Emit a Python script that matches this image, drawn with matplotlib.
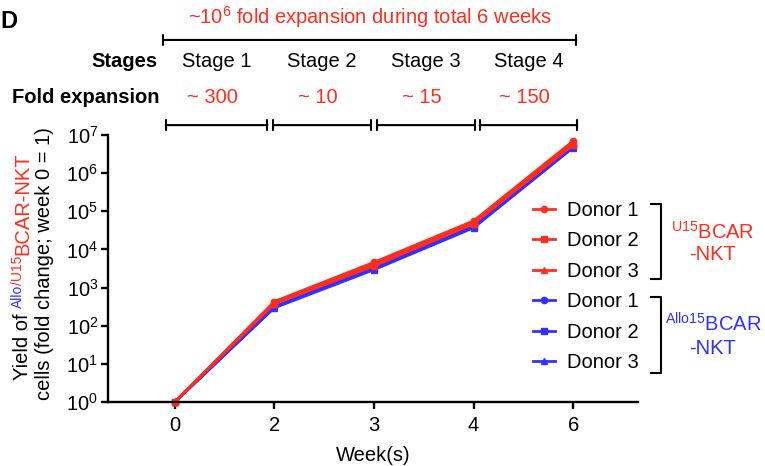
import numpy as np
import matplotlib
matplotlib.use("Agg")
import matplotlib.pyplot as plt
from matplotlib.lines import Line2D
from matplotlib.ticker import LogLocator, NullLocator
from matplotlib.transforms import IdentityTransform

plt.rcParams['font.family'] = ['Liberation Sans', 'DejaVu Sans']
plt.rcParams['mathtext.fontset'] = 'custom'
plt.rcParams['mathtext.rm'] = 'Liberation Sans'
plt.rcParams['mathtext.it'] = 'Liberation Sans:italic'
plt.rcParams['mathtext.bf'] = 'Liberation Sans:bold'
plt.rcParams['mathtext.default'] = 'regular'

# data (fold change, week 0 = 1)
weeks = ["0", "2", "3", "4", "6"]
u15_donor1 = [1, 430, 4600, 56000, 7.0e6]
u15_donor2 = [1, 400, 4100, 51000, 6.2e6]
u15_donor3 = [1, 380, 3700, 47000, 5.6e6]
allo_donor1 = [1, 320, 3300, 41000, 5.2e6]
allo_donor2 = [1, 305, 3100, 39000, 4.9e6]
allo_donor3 = [1, 295, 2950, 37000, 4.7e6]
donors = ["Donor 1", "Donor 2", "Donor 3"]

stages = ["Stage 1", "Stage 2", "Stage 3", "Stage 4"]
folds = ["~ 300", "~ 10", "~ 15", "~ 150"]

RED = "#FF2D1E"
BLUE = "#3030FF"
W, H = 765, 466


def px(x, y):
    # image pixel -> figure fraction
    return x / W, 1 - y / H


fig = plt.figure(figsize=(W / 100, H / 100), dpi=100)
ax = fig.add_axes([108 / W, 1 - 402 / H, 530 / W, 267 / H])

x = np.arange(len(weeks))
markers = ["o", "s", "^"]
blue_lines = []
for vals, m, lab in zip([allo_donor1, allo_donor2, allo_donor3], markers, donors):
    l, = ax.plot(x, vals, color=BLUE, marker=m, ms=4.5, lw=2.0, label=lab, clip_on=False)
    blue_lines.append(l)
red_lines = []
for vals, m, lab in zip([u15_donor1, u15_donor2, u15_donor3], markers, donors):
    l, = ax.plot(x, vals, color=RED, marker=m, ms=4.5, lw=2.0, label=lab, clip_on=False)
    red_lines.append(l)

ax.set_yscale("log")
ax.set_ylim(1, 1e7)
ax.set_xlim(-0.67, 4.65)
ax.yaxis.set_major_locator(LogLocator(base=10, numticks=10))
ax.yaxis.set_minor_locator(NullLocator())
ax.set_xticks(x)
ax.set_xticklabels(weeks)
for s in ["top", "right"]:
    ax.spines[s].set_visible(False)
for s in ["left", "bottom"]:
    ax.spines[s].set_linewidth(1.7)
ax.tick_params(axis="both", direction="out", length=5, width=1.7, labelsize=14.5)
ax.tick_params(axis="x", pad=5)
ax.tick_params(axis="y", pad=2)
ax.set_xlabel("Week(s)", fontsize=14.5, labelpad=8)

handles = red_lines + blue_lines
ax.legend(handles, [h.get_label() for h in handles], loc="center left",
          bbox_to_anchor=px(533, 286.5), bbox_transform=fig.transFigure,
          frameon=False, fontsize=14.5, handlelength=1.1, handletextpad=0.6,
          labelspacing=0.57, borderpad=0, borderaxespad=0)

# group brackets next to the legend
for y0, y1 in [(204, 279), (297, 373)]:
    xs = [651, 661, 661, 651]
    ys = [y0, y0, y1, y1]
    fig.add_artist(Line2D([a / W for a in xs], [1 - b / H for b in ys],
                          color="black", lw=1.5, transform=fig.transFigure))
fig.text(*px(713, 232), "$^{U15}$BCAR", color=RED, fontsize=14.5, ha="center", va="center")
fig.text(*px(713, 254), "-NKT", color=RED, fontsize=14.5, ha="center", va="center")
fig.text(*px(713, 324), "$^{Allo15}$BCAR", color=BLUE, fontsize=14.5, ha="center", va="center")
fig.text(*px(713, 348), "-NKT", color=BLUE, fontsize=14.5, ha="center", va="center")

# stage annotations above the plot
trans = ax.get_xaxis_transform()
seg_start = [-0.09, 0.99, 2.03, 3.06]
seg_end = [0.93, 1.97, 3.01, 4.04]
bar = dict(arrowstyle="|-|,widthA=0.35,widthB=0.35", lw=1.5, color="black",
           shrinkA=0, shrinkB=0)
ax.annotate("", xy=(-0.12, 1.356), xytext=(4.03, 1.356), xycoords=trans,
            textcoords=trans, arrowprops=bar, annotation_clip=False)
ax.text(1.955, 1.44, "~10$^{6}$ fold expansion during total 6 weeks", transform=trans,
        color=RED, fontsize=14.5, ha="center", va="center")
ax.text(-0.17, 1.277, "Stages", transform=trans, fontsize=14.5, fontweight="bold",
        ha="right", va="center")
ax.text(-0.15, 1.139, "Fold expansion", transform=trans, fontsize=14.5, fontweight="bold",
        ha="right", va="center")
for a, b, st, fo in zip(seg_start, seg_end, stages, folds):
    c = (a + b) / 2
    ax.text(c, 1.277, st, transform=trans, fontsize=14.5, ha="center", va="center")
    ax.text(c - 0.04, 1.139, fo, transform=trans, fontsize=14.5, color=RED,
            ha="center", va="center")
    ax.annotate("", xy=(a, 1.037), xytext=(b, 1.037), xycoords=trans,
                textcoords=trans, arrowprops=bar, annotation_clip=False)

fig.text(0.0, 1 - 22 / H, "D", fontsize=17, fontweight="bold", ha="left", va="center")


# y label with coloured parts, built piece by piece (rotated 90 deg)
def vertical_rich(x_base, y_center, pieces):
    texts = []
    for s, c, size, lift, gap in pieces:
        t = fig.text(0, 0, s, color=c, fontsize=size, rotation=90,
                     rotation_mode="anchor", ha="left", va="baseline",
                     transform=IdentityTransform())
        texts.append(t)
    fig.canvas.draw()
    r = fig.canvas.get_renderer()
    lens = [t.get_window_extent(r).height for t in texts]
    total = sum(lens) + sum(p[4] for p in pieces)
    y = y_center - total / 2
    for t, L, p in zip(texts, lens, pieces):
        t.set_position((x_base - p[3], y))
        y += L + p[4]


vertical_rich(28.5, 200, [("Yield of", "black", 14.5, 0, 5),
                          ("Allo", BLUE, 10, 7, 0),
                          ("/U15", RED, 10, 7, 1),
                          ("BCAR-NKT", RED, 14.5, 0, 0)])
vertical_rich(50.5, 202, [("cells (fold change; week 0 = 1)", "black", 14.5, 0, 0)])

fig.savefig("out.png", dpi=100)
